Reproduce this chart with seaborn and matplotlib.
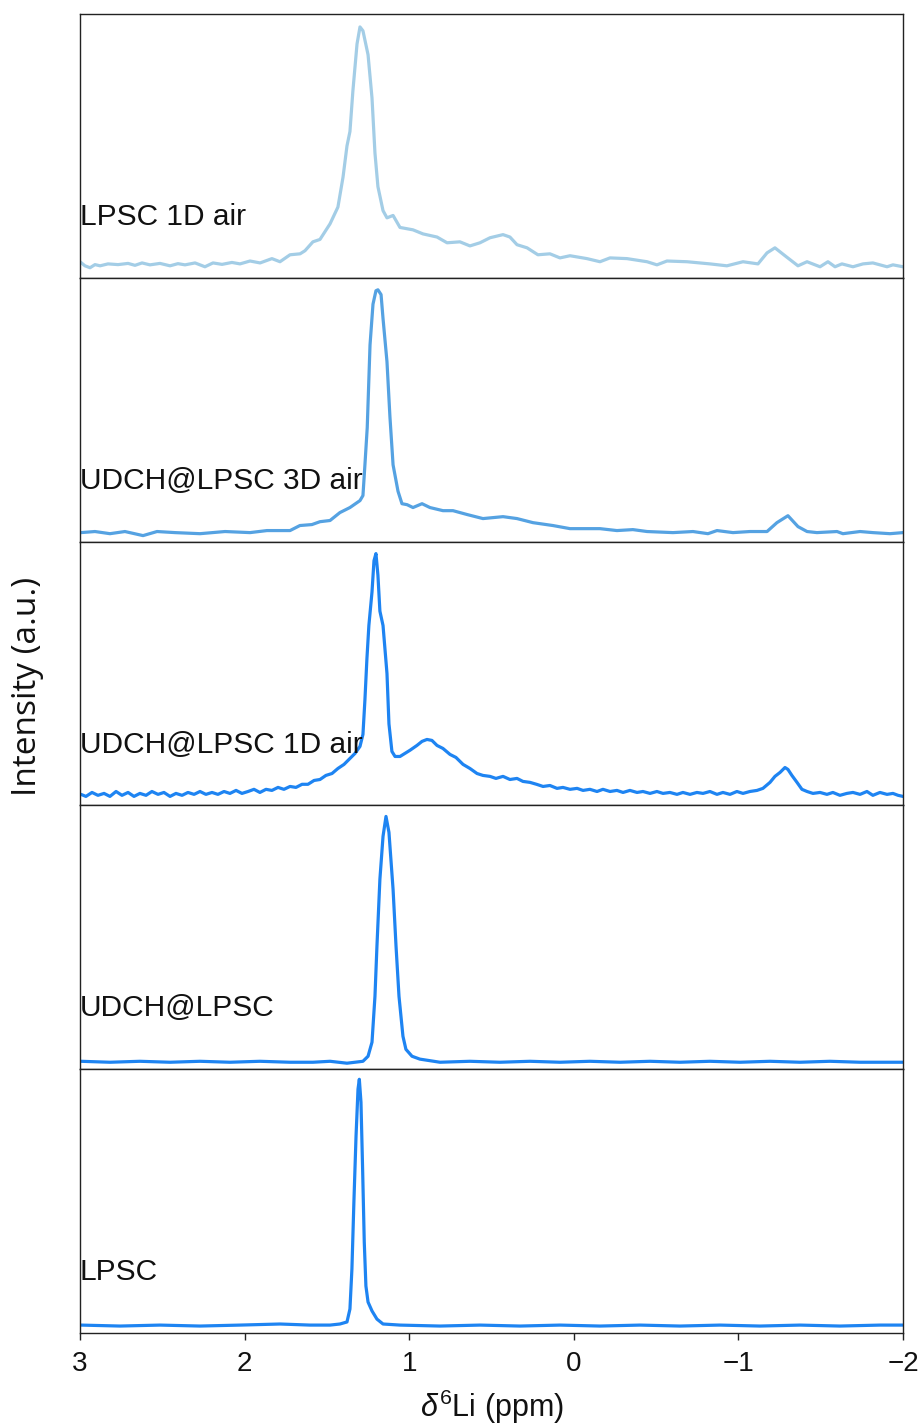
import matplotlib
matplotlib.use("Agg")
import matplotlib.pyplot as plt
import seaborn as sns
import pandas as pd

# 6Li MAS NMR spectra, normalised to the main resonance
labels = ["LPSC 1D air", "UDCH@LPSC 3D air", "UDCH@LPSC 1D air", "UDCH@LPSC", "LPSC"]
colors = ["#a3cde6", "#55a2e2", "#1e84f2", "#1e84f2", "#1e84f2"]

lpsc_1d_air_ppm = [3.000, 2.970, 2.939, 2.909, 2.878, 2.830, 2.769, 2.708, 2.666, 2.623, 2.575, 2.514,
                   2.453, 2.405, 2.362, 2.301, 2.241, 2.192, 2.137, 2.077, 2.028, 1.967, 1.906, 1.834,
                   1.785, 1.724, 1.663, 1.633, 1.585, 1.542, 1.481, 1.433, 1.402, 1.378, 1.360, 1.342,
                   1.317, 1.299, 1.281, 1.250, 1.226, 1.208, 1.190, 1.159, 1.135, 1.098, 1.056, 0.977,
                   0.916, 0.831, 0.770, 0.692, 0.631, 0.570, 0.509, 0.430, 0.388, 0.345, 0.284, 0.218,
                   0.145, 0.084, 0.023, -0.080, -0.159, -0.220, -0.323, -0.445, -0.505, -0.566, -0.688,
                   -0.827, -0.930, -1.028, -1.119, -1.174, -1.222, -1.283, -1.362, -1.417, -1.496,
                   -1.544, -1.587, -1.629, -1.696, -1.757, -1.817, -1.903, -1.939, -2.000]
lpsc_1d_air_int = [0.017, 0.000, -0.008, 0.005, 0.000, 0.008, 0.005, 0.010, 0.002, 0.012, 0.004, 0.010,
                   0.000, 0.009, 0.004, 0.012, -0.004, 0.012, 0.006, 0.014, 0.008, 0.020, 0.012, 0.030,
                   0.017, 0.046, 0.050, 0.063, 0.100, 0.110, 0.175, 0.245, 0.370, 0.500, 0.560, 0.730,
                   0.925, 0.996, 0.980, 0.880, 0.700, 0.470, 0.330, 0.230, 0.200, 0.210, 0.160, 0.150,
                   0.133, 0.120, 0.096, 0.100, 0.083, 0.096, 0.117, 0.130, 0.120, 0.088, 0.075, 0.046,
                   0.050, 0.033, 0.042, 0.030, 0.017, 0.033, 0.030, 0.017, 0.004, 0.020, 0.017,
                   0.008, 0.000, 0.017, 0.008, 0.054, 0.075, 0.042, 0.000, 0.017, -0.004,
                   0.017, -0.004, 0.008, -0.004, 0.008, 0.012, -0.004, 0.004, -0.004]

udch_3d_air_ppm = [2.994, 2.909, 2.818, 2.727, 2.617, 2.532, 2.423, 2.271, 2.119, 1.967, 1.864, 1.724,
                   1.664, 1.591, 1.542, 1.481, 1.421, 1.360, 1.299, 1.281, 1.269, 1.255, 1.238, 1.220,
                   1.202, 1.190, 1.171, 1.159, 1.135, 1.117, 1.098, 1.068, 1.044, 1.013, 0.977, 0.922,
                   0.874, 0.795, 0.734, 0.649, 0.552, 0.430, 0.345, 0.248, 0.127, 0.023, -0.159, -0.262,
                   -0.359, -0.445, -0.602, -0.724, -0.815, -0.870, -0.967, -1.070, -1.174, -1.234,
                   -1.301, -1.362, -1.417, -1.477, -1.599, -1.635, -1.739, -1.817, -1.921, -2.000]
udch_3d_air_int = [-0.0125, -0.008, -0.017, -0.008, -0.025, -0.008, -0.0125, -0.017, -0.008, -0.0125,
                   -0.004, -0.004, 0.017, 0.021, 0.033, 0.038, 0.071, 0.092, 0.121, 0.142, 0.270, 0.425,
                   0.770, 0.940, 0.996, 1.000, 0.980, 0.880, 0.700, 0.470, 0.270, 0.160, 0.108, 0.104,
                   0.092, 0.108, 0.092, 0.079, 0.079, 0.063, 0.046, 0.054, 0.046, 0.029, 0.017, 0.004,
                   0.004, -0.004, 0.000, -0.008, -0.0125, -0.008, -0.017, -0.004, -0.0125, -0.008,
                   -0.008, 0.029, 0.058, 0.0125, -0.008, -0.0125, -0.008, -0.017, -0.008, -0.0125,
                   -0.017, -0.0125]

udch_1d_air_ppm = [2.994, 2.964, 2.927, 2.891, 2.854, 2.818, 2.781, 2.745, 2.708, 2.672, 2.636, 2.599,
                   2.563, 2.526, 2.490, 2.453, 2.417, 2.380, 2.344, 2.307, 2.271, 2.235, 2.198, 2.162,
                   2.125, 2.089, 2.052, 2.016, 1.979, 1.943, 1.907, 1.870, 1.834, 1.797, 1.761, 1.724,
                   1.688, 1.651, 1.615, 1.578, 1.542, 1.506, 1.469, 1.433, 1.396, 1.360, 1.329, 1.299,
                   1.281, 1.269, 1.257, 1.245, 1.226, 1.214, 1.202, 1.190, 1.178, 1.159, 1.135, 1.123,
                   1.105, 1.086, 1.056, 1.026, 0.995, 0.953, 0.922, 0.892, 0.862, 0.831, 0.795, 0.752,
                   0.716, 0.673, 0.631, 0.588, 0.552, 0.509, 0.473, 0.430, 0.388, 0.345, 0.309, 0.266,
                   0.224, 0.187, 0.145, 0.102, 0.066, 0.023, -0.020, -0.056, -0.098, -0.141, -0.177,
                   -0.220, -0.262, -0.299, -0.341, -0.384, -0.420, -0.463, -0.505, -0.542, -0.584,
                   -0.627, -0.663, -0.706, -0.748, -0.785, -0.827, -0.870, -0.906, -0.949, -0.991,
                   -1.028, -1.070, -1.113, -1.149, -1.192, -1.222, -1.253, -1.283, -1.301, -1.325,
                   -1.356, -1.386, -1.417, -1.453, -1.496, -1.538, -1.574, -1.617, -1.659, -1.696,
                   -1.739, -1.781, -1.817, -1.860, -1.903, -1.939, -1.970, -2.000]
udch_1d_air_int = [-0.004, -0.0125, 0.004, -0.008, 0.000, -0.0125, 0.008, -0.008, 0.004, -0.0125, 0.000,
                   -0.008, 0.008, -0.004, 0.004, -0.0125, 0.000, -0.008, 0.004, -0.004, 0.008, -0.004,
                   0.004, -0.004, 0.008, 0.000, 0.0125, 0.000, 0.008, 0.017, 0.004, 0.017, 0.0125, 0.025,
                   0.017, 0.029, 0.025, 0.038, 0.038, 0.054, 0.058, 0.075, 0.083, 0.104, 0.121, 0.146,
                   0.167, 0.196, 0.246, 0.390, 0.560, 0.700, 0.840, 0.970, 1.000, 0.910, 0.760, 0.700,
                   0.500, 0.290, 0.175, 0.154, 0.154, 0.167, 0.180, 0.200, 0.217, 0.225, 0.221, 0.200,
                   0.1875, 0.1625, 0.150, 0.121, 0.104, 0.083, 0.075, 0.071, 0.0625, 0.071, 0.058,
                   0.0625, 0.050, 0.046, 0.0375, 0.029, 0.033, 0.021, 0.025, 0.017, 0.021, 0.0125,
                   0.017, 0.008, 0.017, 0.008, 0.0125, 0.004, 0.0125, 0.004, 0.008, 0.000, 0.008,
                   0.000, 0.004, -0.004, 0.004, -0.004, 0.004, 0.000, 0.008, -0.004, 0.004, -0.004,
                   0.008, 0.000, 0.008, 0.0125, 0.021, 0.046, 0.071, 0.0875, 0.108, 0.100, 0.075,
                   0.046, 0.017, 0.008, 0.000, 0.004, -0.004, 0.004, -0.008, 0.000, 0.004, -0.004,
                   0.008, -0.008, 0.004, -0.004, 0.000, -0.008, -0.0125]

udch_ppm = [2.994, 2.818, 2.636, 2.453, 2.271, 2.089, 1.907, 1.724, 1.585, 1.481, 1.378, 1.281, 1.250,
            1.226, 1.208, 1.196, 1.178, 1.159, 1.141, 1.123, 1.098, 1.080, 1.062, 1.038, 1.020, 0.983,
            0.935, 0.813, 0.631, 0.449, 0.266, 0.084, -0.098, -0.281, -0.463, -0.645, -0.827, -1.010,
            -1.192, -1.374, -1.556, -1.739, -2.000]
udch_int = [-0.017, -0.021, -0.017, -0.021, -0.017, -0.021, -0.017, -0.021, -0.021, -0.017, -0.025,
            -0.017, 0.004, 0.0625, 0.254, 0.4625, 0.742, 0.921, 1.004, 0.9375, 0.700, 0.4625, 0.254,
            0.0875, 0.033, 0.004, -0.008, -0.021, -0.017, -0.021, -0.017, -0.021, -0.017, -0.021,
            -0.017, -0.021, -0.017, -0.021, -0.017, -0.021, -0.017, -0.021, -0.021]

lpsc_ppm = [2.994, 2.757, 2.514, 2.271, 2.028, 1.785, 1.603, 1.481, 1.421, 1.378, 1.360, 1.348, 1.336,
            1.323, 1.311, 1.303, 1.293, 1.283, 1.273, 1.263, 1.250, 1.226, 1.196, 1.159, 1.056, 0.813,
            0.570, 0.327, 0.084, -0.159, -0.402, -0.645, -0.888, -1.131, -1.374, -1.617, -1.860, -2.000]
lpsc_int = [-0.017, -0.021, -0.017, -0.021, -0.017, -0.0125, -0.017, -0.017, -0.0125, -0.004, 0.050,
            0.217, 0.496, 0.771, 0.967, 1.008, 0.9125, 0.633, 0.329, 0.146, 0.079, 0.042, 0.008,
            -0.0125, -0.017, -0.021, -0.017, -0.021, -0.017, -0.021, -0.017, -0.021, -0.017, -0.021,
            -0.017, -0.021, -0.017, -0.017]

spectra = [(lpsc_1d_air_ppm, lpsc_1d_air_int),
           (udch_3d_air_ppm, udch_3d_air_int),
           (udch_1d_air_ppm, udch_1d_air_int),
           (udch_ppm, udch_int),
           (lpsc_ppm, lpsc_int)]

xticks = [3, 2, 1, 0, -1, -2]
xticklabels = ["3", "2", "1", "0", "\u22121", "\u22122"]

sns.set_theme(style="white")
plt.rcParams["font.family"] = ["Liberation Sans", "DejaVu Sans"]
plt.rcParams["mathtext.fontset"] = "custom"
plt.rcParams["mathtext.rm"] = "Liberation Sans"
plt.rcParams["mathtext.it"] = "Liberation Sans:italic"

fig, axes = plt.subplots(5, 1, figsize=(9.24, 14.25), dpi=100, sharex=True)
fig.subplots_adjust(left=80 / 924, right=903 / 924, top=1 - 14 / 1425,
                    bottom=1 - 1333 / 1425, hspace=0)

for ax, (ppm, inten), lab, col in zip(axes, spectra, labels, colors):
    df = pd.DataFrame({"ppm": ppm, "intensity": inten})
    sns.lineplot(data=df, x="ppm", y="intensity", ax=ax, color=col, lw=2.3,
                 sort=False, estimator=None)
    ax.set_xlim(3, -2)
    ax.set_ylim(-0.05, 1.05)
    ax.set_yticks([])
    ax.set_ylabel("")
    ax.set_xlabel("")
    for sp in ax.spines.values():
        sp.set_color("#222222")
        sp.set_linewidth(1.0)
    ax.text(0.0, 0.2, lab, transform=ax.transAxes, fontsize=21.5,
            ha="left", va="baseline", color="#111111")
    ax.tick_params(axis="x", bottom=False, labelbottom=False)

bottom_ax = axes[-1]
bottom_ax.set_xticks(xticks)
bottom_ax.set_xticklabels(xticklabels)
bottom_ax.tick_params(axis="x", bottom=True, labelbottom=True, direction="out",
                      length=5, width=1.0, color="#222222", labelsize=20,
                      labelcolor="#111111", pad=8)
bottom_ax.set_xlabel(r"$\delta^{6}$Li (ppm)", fontsize=22, labelpad=8, color="#111111")

fig.text(28 / 924, 1 - 686 / 1425, "Intensity (a.u.)", rotation=90, ha="center",
         va="center", fontsize=24, color="#111111", family=["Open Sans", "DejaVu Sans"])

fig.savefig("out.png", dpi=100)
